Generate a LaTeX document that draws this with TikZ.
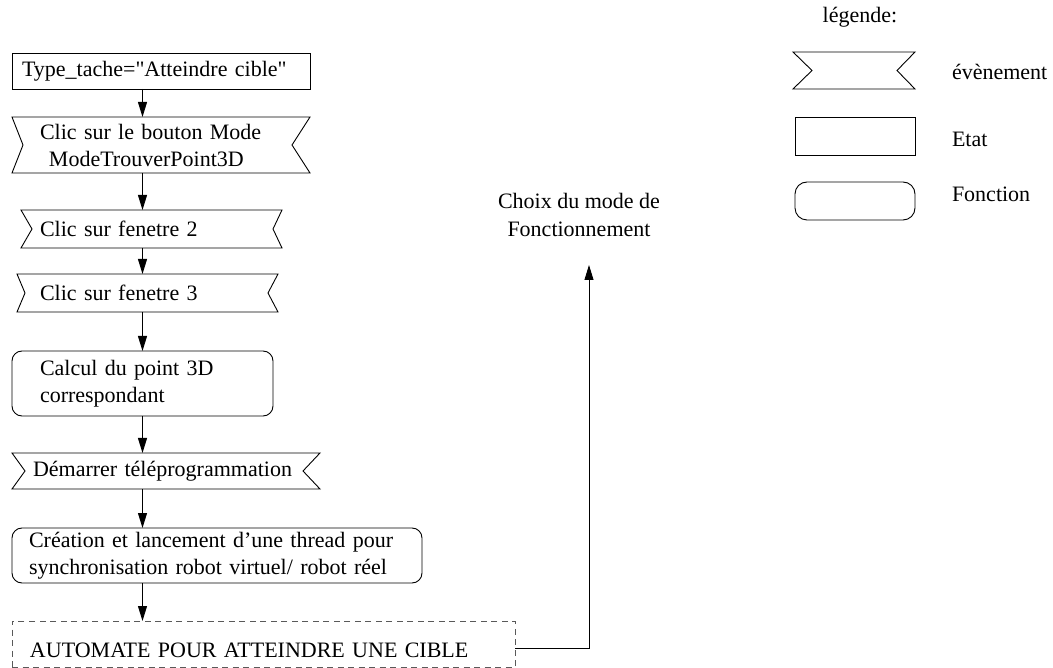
\documentclass[tikz,border=0pt]{standalone}
\usepackage{fontspec}
\setmainfont{Liberation Serif}
\newfontfamily\plainserif{Liberation Serif}[Ligatures=TeXOff]
\usetikzlibrary{arrows.meta}
\newcommand\evoutline[3]{\draw[outline] (#1.north west) -- (#1.north east) -- ([xshift=-#3]#1.east) -- (#1.south east) -- (#1.south west) -- ([xshift=#2]#1.west) -- cycle;}
\tikzset{
  every node/.style={font=\fontsize{22}{27}\selectfont, outer sep=0pt, inner sep=0pt},
  outline/.style={line width=0.9pt, line join=miter},
  shapebase/.style={anchor=north west, align=left, inner ysep=0pt},
  statebox/.style={shapebase, draw, line width=0.9pt},
  evbox/.style={shapebase},
  fnbox/.style={shapebase, draw, line width=0.9pt, rounded corners=10pt},
  dashbox/.style={shapebase, draw=black!65, line width=0.9pt, dash pattern=on 6pt off 4.5pt},
  arr/.style={line width=0.9pt, -{Triangle[length=15pt,width=9pt]}},
  lbl/.style={anchor=base west},
}
\begin{document}
\begin{tikzpicture}[x=1pt,y=-1pt]
\useasboundingbox (0,0) rectangle (1053,668);
\coordinate (ax) at (142.5,0);

% main column
\node[statebox, minimum width=298pt, minimum height=36pt, text width=278pt, inner xsep=10pt] (box1) at (12,53) {{\plainserif Type\_tache="Atteindre cible"}};
\node[evbox, minimum width=298pt, minimum height=56pt, text width=242pt, inner xsep=28pt] (ev2) at (12,117) {Clic sur le bouton Mode\\\hspace*{9pt}ModeTrouverPoint3D};
\node[evbox, minimum width=261pt, minimum height=38pt, text width=223pt, inner xsep=19pt] (ev3) at (21,210) {Clic sur fenetre 2};
\node[evbox, minimum width=261pt, minimum height=38pt, text width=215pt, inner xsep=23pt] (ev4) at (17,274) {Clic sur fenetre 3};
\node[fnbox, minimum width=261pt, minimum height=65pt, text width=205pt, inner xsep=28pt] (fn1) at (12,351) {Calcul du point 3D\\correspondant};
\node[evbox, minimum width=308pt, minimum height=36pt, text width=266pt, inner xsep=21pt] (ev5) at (12,453) {Démarrer téléprogrammation};
\node[fnbox, minimum width=410pt, minimum height=55pt, text width=376pt, inner xsep=17pt] (fn2) at (12,528) {Création et lancement d’une thread pour\\synchronisation robot virtuel/ robot réel};
\node[dashbox, minimum width=503pt, minimum height=46pt, text width=467pt, inner xsep=18pt, text height=36pt, text depth=10pt] (auto) at (12,621) {AUTOMATE POUR ATTEINDRE UNE CIBLE};

\evoutline{ev2}{11}{18}
\evoutline{ev3}{11}{9}
\evoutline{ev4}{8}{10}
\evoutline{ev5}{13}{17}

\draw[arr] (box1.south -| ax) -- (ev2.north -| ax);
\draw[arr] (ev2.south -| ax) -- (ev3.north -| ax);
\draw[arr] (ev3.south -| ax) -- (ev4.north -| ax);
\draw[arr] (ev4.south -| ax) -- (fn1.north -| ax);
\draw[arr] (fn1.south -| ax) -- (ev5.north -| ax);
\draw[arr] (ev5.south -| ax) -- (fn2.north -| ax);
\draw[arr] (fn2.south -| ax) -- (auto.north -| ax);

% target
\node[align=center, font=\fontsize{22}{28}\selectfont] (choix) at (579,214.5) {Choix du mode de\\Fonctionnement};
\coordinate (tip) at (589,265);
\draw[arr] ([yshift=-4pt]auto.east) -| (tip);

% legend
\node[anchor=base] (legtitle) at (860,23) {légende:};
\node[evbox, minimum width=122pt, minimum height=37pt] (legev) at (793,52) {};
\evoutline{legev}{19}{18}
\node[statebox, minimum width=120pt, minimum height=38pt] (legst) at (795,117) {};
\node[fnbox, rounded corners=12pt, minimum width=120pt, minimum height=38pt] (legfn) at (795,182) {};
\node[lbl] (lblev) at (952,80) {évènement};
\node[lbl] (lblst) at (952,147) {Etat};
\node[lbl] (lblfn) at (952,202) {Fonction};
\end{tikzpicture}
\end{document}
